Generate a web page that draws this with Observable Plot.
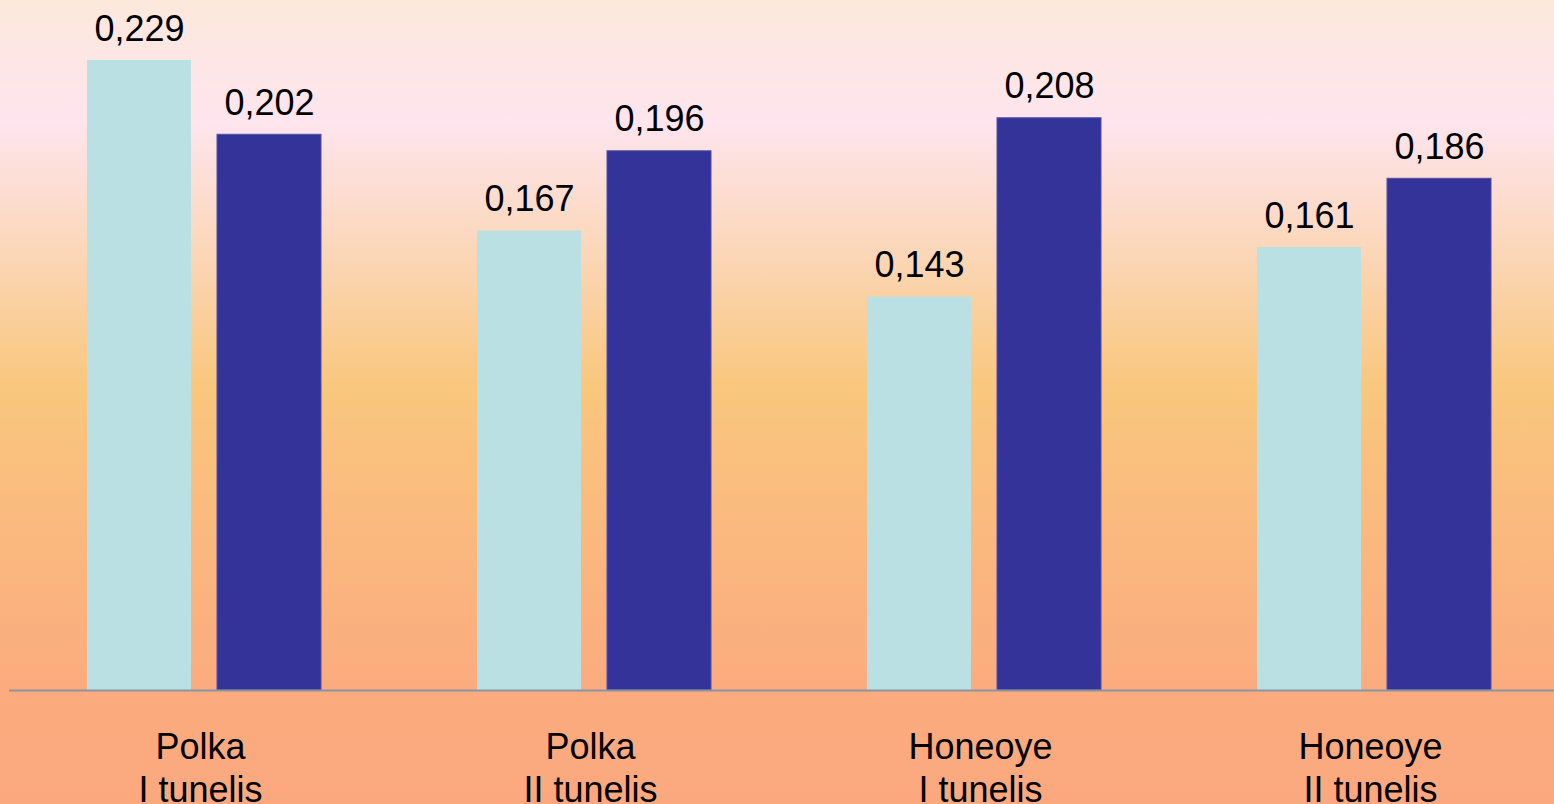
<!DOCTYPE html>
<html>
<head>
<meta charset="utf-8">
<script src="https://cdn.jsdelivr.net/npm/d3@7"></script>
<script src="https://cdn.jsdelivr.net/npm/@observablehq/plot@0.6"></script>
<style>
  html, body { margin: 0; padding: 0; overflow: hidden; }
  body { width: 1554px; height: 804px; }
</style>
</head>
<body>
<div id="chart"></div>
<script>
const groups = ["Polka\nI tunelis", "Polka\nII tunelis", "Honeoye\nI tunelis", "Honeoye\nII tunelis"];
const series = ["A", "B"];
const valuesA = [0.229, 0.167, 0.143, 0.161];
const valuesB = [0.202, 0.196, 0.208, 0.186];
const seriesColors = ["#bae0e3", "#343399"];

const data = [];
groups.forEach((g, i) => {
  data.push({group: g, series: series[0], value: valuesA[i]});
  data.push({group: g, series: series[1], value: valuesB[i]});
});
const fmt = v => v.toFixed(3).replace(".", ",");

const chart = Plot.plot({
  width: 1554,
  height: 804,
  marginTop: 0,
  marginBottom: 0,
  marginLeft: 0,
  marginRight: 0,
  style: {
    background: "linear-gradient(to bottom, #fde8dc 0%, #fee5ee 15%, #fbd6b6 32%, #f9c77d 48%, #fab97e 66%, #fbab7e 86%, #fba87e 100%)",
    fontFamily: "'Liberation Sans', Arial, sans-serif",
    fontSize: "36px",
    color: "#000"
  },
  fx: {domain: groups, range: [9, 1569], padding: 0, axis: null},
  x: {domain: series, paddingInner: 0.2, paddingOuter: 0.6, axis: null},
  y: {domain: [0, 0.229], range: [690, 60], axis: null},
  color: {domain: series, range: seriesColors},
  marks: [
    Plot.barY(data, {fx: "group", x: "series", y: "value", fill: "series", stroke: d => d.series === "B" ? "#5050a8" : "none", strokeWidth: 1, inset: 0}),
    Plot.text(data, {fx: "group", x: "series", y: "value", text: d => fmt(d.value), lineAnchor: "bottom", dy: -20, fill: "#000", fontSize: 36}),
    Plot.ruleY([0], {stroke: "#8a96a2", strokeWidth: 2}),
    Plot.text(groups, {fx: d => d, y: () => 0, text: d => d, lineAnchor: "top", dy: 39, dx: -4, lineHeight: 1.17, fill: "#000", fontSize: 36})
  ]
});
document.getElementById("chart").append(chart);
</script>
</body>
</html>
